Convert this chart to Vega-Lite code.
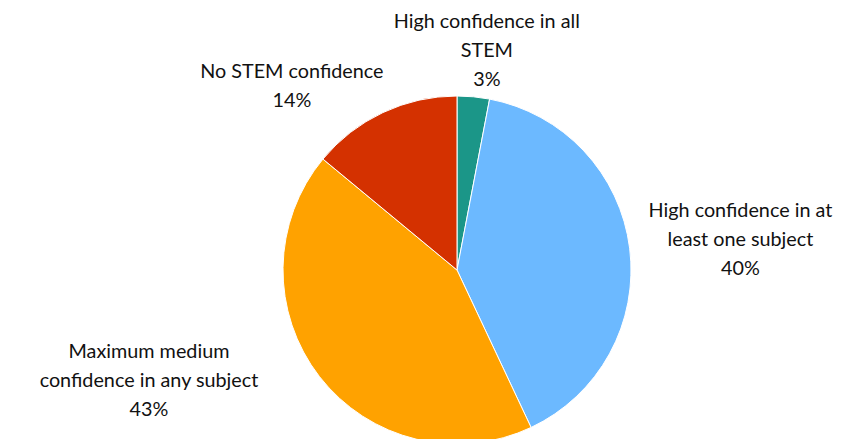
{
  "$schema": "https://vega.github.io/schema/vega-lite/v6.json",
  "width": 800,
  "height": 338,
  "autosize": {"type": "none"},
  "padding": {"left": 57, "top": 101, "right": 0, "bottom": 0},
  "background": "white",
  "view": {"stroke": null},
  "data": {
    "values": [
      {"idx": 0, "category": "High confidence in all STEM", "label": "High confidence in all\nSTEM\n3%", "value": 3},
      {"idx": 1, "category": "High confidence in at least one subject", "label": "High confidence in at\nleast one subject\n40%", "value": 40},
      {"idx": 2, "category": "Maximum medium confidence in any subject", "label": "Maximum medium\nconfidence in any subject\n43%", "value": 43},
      {"idx": 3, "category": "No STEM confidence", "label": "No STEM confidence\n14%", "value": 14}
    ]
  },
  "encoding": {
    "theta": {"field": "value", "type": "quantitative", "stack": true},
    "order": {"field": "idx", "type": "quantitative"},
    "color": {
      "field": "category",
      "type": "nominal",
      "legend": null,
      "scale": {
        "domain": ["High confidence in all STEM", "High confidence in at least one subject", "Maximum medium confidence in any subject", "No STEM confidence"],
        "range": ["#1b9688", "#6cb9ff", "#ffa200", "#d43100"]
      }
    }
  },
  "layer": [
    {
      "mark": {"type": "arc", "outerRadius": 174, "stroke": "white", "strokeWidth": 1}
    },
    {
      "mark": {
        "type": "text",
        "radius": 200,
        "lineBreak": "\n",
        "font": "Lato",
        "fontSize": 19.8,
        "lineHeight": 29,
        "align": "center",
        "baseline": "middle",
        "fill": "#111111",
        "dx": {"expr": "datum.idx == 0 ? 11 : datum.idx == 1 ? 85 : datum.idx == 2 ? -150 : -80"},
        "dy": {"expr": "datum.idx == 0 ? -49 : datum.idx == 1 ? -34 : datum.idx == 2 ? -41 : -17"}
      },
      "encoding": {
        "text": {"field": "label", "type": "nominal"},
        "color": {"value": "#111111"}
      }
    }
  ]
}
